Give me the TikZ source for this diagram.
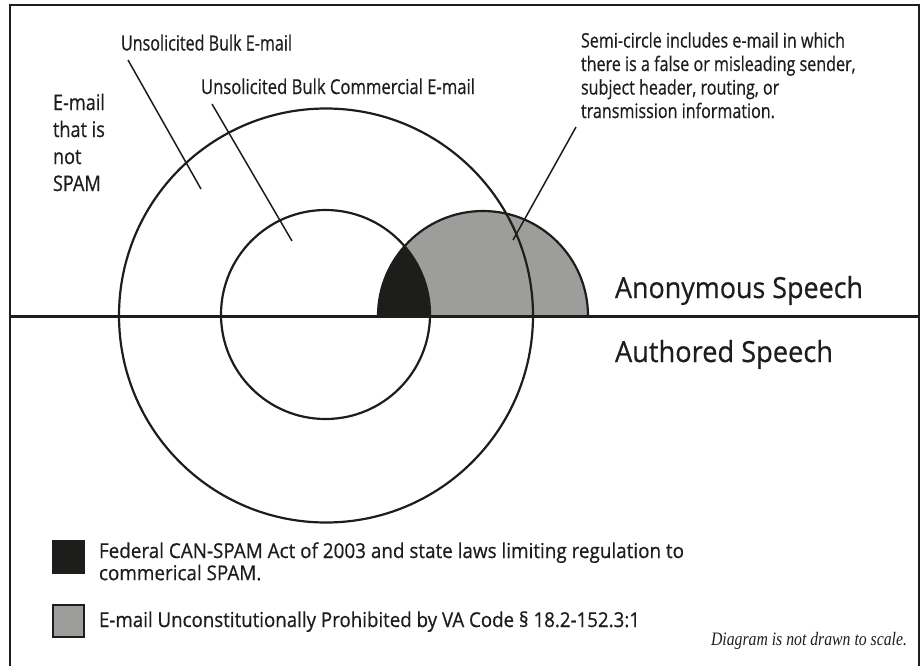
\documentclass[tikz,border=0pt]{standalone}
\usepackage{fontspec}
\usepackage{graphicx}
\setmainfont[FakeBold=0.6]{Open Sans}
\newfontfamily\notefont{Liberation Serif}

\definecolor{inkdark}{HTML}{1D1D1B}
\definecolor{semigray}{HTML}{9D9D9C}

% Set text horizontally scaled so that a reference line gets a given width (in pt)
\newlength\fitwd
\newcommand\fitbox[3]{\settowidth\fitwd{#2}%
  \pgfmathsetmacro\fitratio{#1/\fitwd}%
  \scalebox{\fitratio}[1]{#3}}
\newcommand\fitline[2]{\fitbox{#1}{#2}{#2}}
\newcommand\stacklines[1]{\begin{tabular}[t]{@{}l@{}}#1\end{tabular}}

\tikzset{
  lbl/.style={anchor=base west, inner sep=0pt, outer sep=0pt, text=inkdark},
  ring/.style={draw=inkdark, line width=2.2pt},
  pointer/.style={draw=inkdark, line width=1.5pt},
  swatch/.style={draw=inkdark, line width=1.8pt},
}

\begin{document}
\begin{tikzpicture}[x=1pt, y=-1pt]
\useasboundingbox (0,0) rectangle (922,665);
\clip (0,0) rectangle (922,665);

% outer frame (bottom edge runs off the page)
\draw[inkdark, line width=1.6pt] (10,5) rectangle (919,680);

% semicircle of anonymous e-mail with false header information
\fill[semigray] (378,316) arc[start angle=180, end angle=360, radius=105] -- cycle;
% overlap with unsolicited bulk commercial e-mail
\begin{scope}
  \clip (325.5,314.5) circle (104.5);
  \fill[inkdark] (378,316) arc[start angle=180, end angle=360, radius=105] -- cycle;
\end{scope}
\draw[ring] (378,316) arc[start angle=180, end angle=360, radius=105];

% nested circles
\draw[ring] (326,315.5) circle (207);
\draw[ring] (325.5,314.5) circle (104.5);

% anonymous / authored divide
\coordinate (divL) at (10,316.5);
\coordinate (divR) at (919,316.5);
\draw[inkdark, line width=2.2pt] (divL) -- (divR);

% labels
\node[lbl, font=\fontsize{21}{23}\selectfont] (ube) at (121,50.5)
  {\fitline{171}{Unsolicited Bulk E-mail}};
\node[lbl, font=\fontsize{20.5}{23}\selectfont] (ubce) at (201,94)
  {\fitline{274}{Unsolicited Bulk Commercial E-mail}};
\node[lbl, font=\fontsize{21.5}{27}\selectfont] (notspam) at (53,110)
  {\fitbox{52}{E-mail}{\stacklines{E-mail\\that is\\not\\SPAM}}};
\node[lbl, font=\fontsize{20}{23.5}\selectfont] (semi) at (581,47.5)
  {\fitbox{264}{Semi-circle includes e-mail in which}{\stacklines{Semi-circle includes e-mail in which\\there is a false or misleading sender,\\subject header, routing, or\\transmission information.}}};
\node[lbl, font=\fontsize{29}{30}\selectfont] (anon) at (615,298)
  {\fitline{248}{Anonymous Speech}};
\node[lbl, font=\fontsize{29}{30}\selectfont] (auth) at (615,362)
  {\fitline{218}{Authored Speech}};

% pointer lines
\coordinate (ubeTail) at (128,60);   \coordinate (ubeTip) at (201,189);
\coordinate (ubceTail) at (212,104); \coordinate (ubceTip) at (292,241);
\coordinate (semiTail) at (576,127); \coordinate (semiTip) at (513,240);
\draw[pointer] (ubeTail) -- (ubeTip);
\draw[pointer] (ubceTail) -- (ubceTip);
\draw[pointer] (semiTail) -- (semiTip);

% legend
\node[swatch, fill=inkdark, minimum width=31pt, minimum height=32pt, inner sep=0pt, anchor=north west] (keyDark) at (52,540) {};
\node[swatch, fill=semigray, minimum width=31pt, minimum height=32pt, inner sep=0pt, anchor=north west] (keyGray) at (52,604) {};
\node[lbl, font=\fontsize{20.5}{22}\selectfont] (keyDarkText) at (99,558)
  {\fitbox{585}{Federal CAN-SPAM Act of 2003 and state laws limiting regulation to}{\stacklines{Federal CAN-SPAM Act of 2003 and state laws limiting regulation to\\commerical SPAM.}}};
\node[lbl, font=\fontsize{20.5}{22}\selectfont] (keyGrayText) at (99,627)
  {\fitline{541}{E-mail Unconstitutionally Prohibited by VA Code § 18.2-152.3:1}};

\node[lbl, font=\notefont\itshape\fontsize{19}{20}\selectfont] (scaleNote) at (711,645)
  {\fitline{196}{Diagram is not drawn to scale.}};
\end{tikzpicture}
\end{document}
